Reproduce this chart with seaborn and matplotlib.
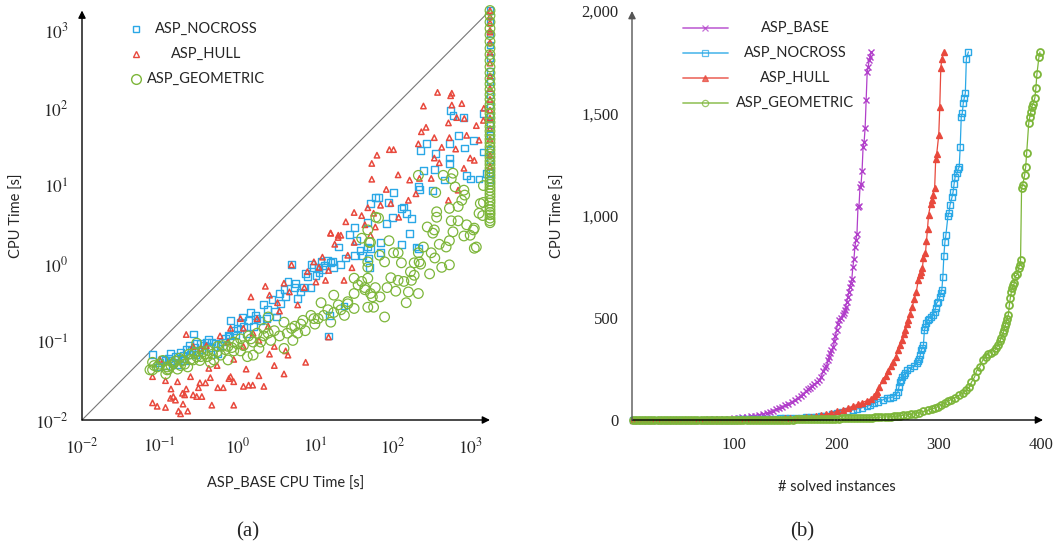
import matplotlib
matplotlib.use("Agg")
import numpy as np
import pandas as pd
import matplotlib.pyplot as plt
import seaborn as sns
from matplotlib.lines import Line2D
from matplotlib.ticker import LogLocator, NullFormatter, FuncFormatter, FixedLocator

# ---------------------------------------------------------------
# (a) ASP_BASE CPU time (x) vs. CPU time of the other encodings (y)
# ---------------------------------------------------------------
nocross_pts = [
    (0.081, 0.070), (0.093, 0.048), (0.10, 0.055), (0.11, 0.060), (0.119, 0.059), (0.13, 0.062),
    (0.138, 0.072), (0.15, 0.055), (0.16, 0.065), (0.17, 0.060), (0.186, 0.074), (0.20, 0.068),
    (0.22, 0.080), (0.25, 0.070), (0.273, 0.127), (0.28, 0.085), (0.30, 0.095), (0.32, 0.075),
    (0.34, 0.097), (0.38, 0.090), (0.43, 0.107), (0.47, 0.100), (0.56, 0.072), (0.60, 0.090),
    (0.70, 0.110), (0.76, 0.123), (0.82, 0.19), (0.90, 0.14), (1.0, 0.15), (1.1, 0.18),
    (1.17, 0.21), (1.3, 0.13), (1.48, 0.24), (1.6, 0.16), (1.8, 0.20), (2.0, 0.19),
    (0.12, 0.050), (0.14, 0.058), (0.17, 0.052), (0.19, 0.062), (0.21, 0.058), (0.24, 0.090),
    (0.26, 0.078), (0.29, 0.070), (0.35, 0.080), (0.40, 0.100), (0.45, 0.085), (0.52, 0.095),
    (0.65, 0.10), (0.80, 0.12), (0.95, 0.125), (1.2, 0.16), (1.4, 0.19), (1.7, 0.22),
    (2.2, 0.30), (2.46, 0.26), (2.8, 0.35), (3.2, 0.21), (3.6, 0.31), (4.0, 0.47),
    (4.2, 0.38), (4.5, 0.60), (5.0, 0.98), (5.6, 0.57), (6.0, 0.36), (6.6, 0.44),
    (7.2, 0.50), (7.5, 0.75), (8.9, 0.50), (9.7, 0.91), (10.3, 0.72), (11.0, 0.91),
    (11.3, 0.77), (12.0, 1.10), (13.2, 0.97), (14.7, 1.12), (15.0, 0.12), (15.5, 0.22),
    (16.0, 1.04), (17.0, 1.07), (17.5, 0.91), (19.9, 1.66), (21.6, 0.98), (23.7, 0.29),
    (2.4, 0.20), (3.0, 0.25), (3.5, 0.42), (5.5, 0.50), (8.0, 0.70), (9.0, 1.0),
    (12.5, 0.85), (25, 1.2), (28, 2.4), (38, 1.5),
    (32, 2.96), (32, 1.30), (34, 2.0), (41.5, 1.30), (48, 3.4), (48, 1.66),
    (48.5, 1.2), (50, 0.91), (52, 6.0), (52.5, 1.6), (61, 7.2), (66, 7.1),
    (70, 1.9), (70, 1.4), (83, 3.3), (88, 6.2), (100, 4.0), (103, 8.3),
    (130, 5.2), (130, 1.8), (140, 5.4), (150, 4.5), (166, 2.5), (175, 3.9),
    (200, 1.66), (215, 10.0), (215, 1.6), (225, 9.0), (230, 29), (250, 16),
    (275, 35), (330, 8.9), (345, 16.5), (360, 26), (470, 12), (540, 35),
    (540, 23), (540, 19.6), (560, 93), (600, 81), (700, 45), (830, 76),
    (850, 31), (890, 13.8), (1000, 12.4), (1100, 39), (1300, 12.4), (1480, 27.5),
    (1480, 86), (1600, 14.7),
    (1800, 12), (1800, 15), (1800, 22), (1800, 30), (1800, 45), (1800, 62), (1800, 80),
    (1800, 110), (1800, 150), (1800, 220), (1800, 300), (1800, 450), (1800, 650),
    (1800, 900), (1800, 1300), (1800, 1800),
]

hull_pts = [
    (0.081, 0.0166), (0.093, 0.015), (0.119, 0.0145), (0.138, 0.019), (0.15, 0.020), (0.16, 0.018),
    (0.175, 0.013), (0.186, 0.012), (0.197, 0.022), (0.21, 0.021), (0.23, 0.013), (0.27, 0.021),
    (0.30, 0.020), (0.316, 0.026), (0.47, 0.0155), (0.90, 0.0155), (0.081, 0.036), (0.119, 0.032),
    (0.17, 0.031), (0.25, 0.036), (0.33, 0.030), (0.39, 0.030), (0.45, 0.035), (0.56, 0.026),
    (0.66, 0.026), (0.78, 0.034), (0.82, 0.036), (0.90, 0.031), (1.2, 0.027), (1.4, 0.028),
    (1.58, 0.028), (1.9, 0.037), (2.2, 0.027), (3.0, 0.050), (4.0, 0.039), (7.6, 0.055),
    (0.22, 0.125), (0.27, 0.088), (0.34, 0.083), (0.40, 0.090), (0.43, 0.046), (0.76, 0.10),
    (0.82, 0.15), (1.1, 0.20), (1.2, 0.15), (1.2, 0.088), (1.6, 0.13), (1.8, 0.20),
    (1.9, 0.105), (2.6, 0.070), (3.0, 0.088), (3.3, 0.32), (4.2, 0.077), (4.5, 0.068),
    (0.10, 0.060), (0.14, 0.025), (0.20, 0.016), (0.22, 0.025), (0.35, 0.020), (0.55, 0.050),
    (0.60, 0.12), (0.90, 0.060), (1.3, 0.045), (2.5, 0.16), (3.5, 0.25), (6.0, 0.30),
    (1.5, 0.38), (2.3, 0.52), (2.6, 0.40), (4.0, 0.57), (4.7, 0.44), (5.0, 0.98),
    (7.3, 0.50), (9.7, 1.07), (10.3, 0.59), (11.3, 0.91), (12.5, 1.23), (13.7, 0.62),
    (15.0, 0.83), (15.0, 0.116), (15.9, 2.5), (16, 2.5), (19.9, 2.2), (20, 2.35),
    (21.6, 2.35), (23.7, 0.62), (26.5, 1.30), (32, 4.6), (32, 1.9), (40, 4.2),
    (8.0, 0.80), (18, 1.8), (25, 3.5), (30, 0.90),
    (44, 3.2), (48, 5.3), (52, 2.35), (57, 4.5), (60, 3.0), (70, 5.7),
    (95, 6.0), (120, 4.0), (160, 6.6), (54, 19.6), (54, 12.3), (63, 25),
    (83, 9.1), (91, 29.5), (103, 29.5), (118, 14), (166, 12), (200, 8.0),
    (215, 35), (222, 12.6), (235, 50), (250, 107), (270, 57), (315, 12.6),
    (345, 42), (345, 23), (380, 160), (400, 20), (430, 31.6), (525, 65),
    (525, 6.6), (540, 42), (560, 145), (580, 156), (580, 110), (650, 30),
    (670, 76), (700, 8.9), (780, 115), (830, 17), (840, 74), (900, 45),
    (1000, 23), (1130, 21.5), (1200, 60), (1300, 39), (1480, 70), (1500, 100),
    (1800, 18), (1800, 25), (1800, 40), (1800, 55), (1800, 75), (1800, 95), (1800, 130),
    (1800, 180), (1800, 260), (1800, 380), (1800, 520), (1800, 700), (1800, 950),
    (1800, 1000), (1800, 1250), (1800, 1500), (1800, 1800),
]

geometric_pts = [
    (0.075, 0.044), (0.081, 0.055), (0.081, 0.044), (0.093, 0.048), (0.10, 0.052), (0.12, 0.039),
    (0.125, 0.048), (0.125, 0.044), (0.14, 0.050), (0.15, 0.053), (0.17, 0.045), (0.186, 0.050),
    (0.20, 0.058), (0.23, 0.048), (0.25, 0.060), (0.27, 0.059), (0.30, 0.097), (0.30, 0.065),
    (0.34, 0.065), (0.38, 0.070), (0.41, 0.065), (0.45, 0.055), (0.50, 0.059), (0.56, 0.088),
    (0.61, 0.068), (0.70, 0.080), (0.76, 0.059), (0.76, 0.088), (0.90, 0.10), (0.90, 0.077),
    (1.1, 0.077), (1.1, 0.11), (1.35, 0.065), (1.4, 0.12), (1.6, 0.10), (1.6, 0.068),
    (0.085, 0.050), (0.11, 0.058), (0.13, 0.045), (0.16, 0.057), (0.18, 0.062), (0.21, 0.052),
    (0.24, 0.070), (0.28, 0.072), (0.33, 0.058), (0.36, 0.075), (0.42, 0.078), (0.48, 0.070),
    (0.55, 0.075), (0.65, 0.090), (0.85, 0.085), (1.0, 0.095), (1.2, 0.090), (1.5, 0.11),
    (1.8, 0.13), (2.0, 0.10), (2.5, 0.13), (3.5, 0.12), (5.0, 0.15), (6.0, 0.13),
    (7.0, 0.19), (10, 0.17), (13, 0.22), (20, 0.30), (24, 0.22), (40, 0.60),
    (1.9, 0.083), (2.2, 0.15), (2.2, 0.12), (2.5, 0.21), (2.7, 0.105), (3.0, 0.14),
    (4.0, 0.083), (4.0, 0.18), (4.4, 0.13), (5.2, 0.105), (5.5, 0.16), (6.6, 0.17),
    (7.5, 0.14), (8.9, 0.22), (9.7, 0.20), (11, 0.20), (12, 0.32), (14.7, 0.26),
    (16, 0.18), (17.5, 0.24), (17.5, 0.40), (21.6, 0.26), (26.5, 0.31), (26.5, 0.33),
    (32, 0.66), (32, 0.42), (32, 0.27), (36, 0.54), (44, 0.47), (44, 0.50),
    (48, 0.91), (48, 0.66), (48, 0.28), (52, 1.9), (52, 0.42), (55, 0.38),
    (57, 0.28), (69, 0.38), (79, 0.21), (79, 1.07), (90, 2.0), (95, 0.67),
    (118, 0.62), (118, 1.4), (130, 1.04), (150, 0.32), (160, 0.44), (175, 0.62),
    (190, 0.72), (215, 0.42), (220, 1.07), (230, 1.0), (250, 1.66), (280, 3.0),
    (315, 1.4), (330, 2.5), (360, 8.3), (370, 4.7), (370, 4.0), (430, 0.91),
    (450, 13.8), (490, 1.66), (540, 0.98), (540, 5.2), (540, 2.0), (600, 14.7),
    (700, 3.6), (780, 6.6), (830, 8.9), (1000, 2.35), (1130, 2.9), (1200, 1.66),
    (1480, 10.2), (1480, 6.2), (61, 4.0), (50, 1.9), (48, 1.07), (66, 3.9),
    (48, 2.75), (40, 2.15), (103, 1.4), (68, 1.3), (190, 1.04), (215, 1.4),
    (345, 2.75), (570, 3.6), (830, 2.3), (1100, 2.75), (1130, 1.6), (1350, 6.0),
    (1450, 4.2), (850, 7.7), (640, 9.8), (570, 12.5), (215, 13.8),
    (60, 0.50), (85, 0.50), (110, 0.45), (140, 0.60), (170, 0.80), (300, 0.75),
    (350, 1.2), (400, 1.8), (600, 2.6), (900, 3.2), (1300, 4.5), (700, 5.5),
    (1800, 3.4), (1800, 3.6), (1800, 3.9), (1800, 4.3), (1800, 4.6), (1800, 5.0),
    (1800, 5.5), (1800, 6.1), (1800, 6.6), (1800, 7.3), (1800, 8.0), (1800, 8.8),
    (1800, 9.6), (1800, 10.6), (1800, 11.5), (1800, 12.8), (1800, 14), (1800, 15.5),
    (1800, 17), (1800, 19), (1800, 21), (1800, 23.5), (1800, 26), (1800, 29),
    (1800, 32), (1800, 36), (1800, 40), (1800, 45), (1800, 51), (1800, 58),
    (1800, 66), (1800, 75), (1800, 86), (1800, 98), (1800, 112), (1800, 130),
    (1800, 150), (1800, 175), (1800, 205), (1800, 240), (1800, 285), (1800, 340),
    (1800, 410), (1800, 490), (1800, 590), (1800, 720), (1800, 880), (1800, 1060),
    (1800, 1280), (1800, 1550), (1800, 1800),
]

# ---------------------------------------------------------------
# (b) cactus plot: (# solved instances, CPU time [s])
# ---------------------------------------------------------------
cactus_base = [
    (1, 0.05), (5, 0.07), (10, 0.09), (15, 0.1), (20, 0.12), (25, 0.15), (30, 0.18), (35, 0.22),
    (40, 0.3), (45, 0.4), (50, 0.5), (55, 0.7), (60, 1.0), (65, 1.3), (70, 1.8), (75, 2.5),
    (80, 3.2), (85, 4.2), (90, 5.5), (95, 7), (100, 9), (104, 11), (108, 13), (112, 16),
    (116, 19), (120, 22), (124, 26), (128, 30), (132, 35), (135, 40), (138, 46), (141, 52),
    (144, 58), (147, 65), (150, 72), (153, 80), (156, 88), (159, 97), (162, 108), (165, 118),
    (167, 128), (170, 140), (172, 150), (174, 158), (176, 168), (178, 175), (181, 184), (183, 196),
    (185, 212), (187, 238), (189, 252), (190, 262), (192, 292), (193, 308), (194, 328), (195, 340),
    (197, 358), (198, 385), (199, 410), (200, 440), (201, 470), (202, 490), (204, 500), (206, 512),
    (207, 522), (208, 540), (209, 555), (210, 575), (211, 600), (212, 625), (213, 650), (214, 668),
    (215, 690), (216, 748), (217, 785), (218, 845), (219, 880), (220, 909), (221, 1041), (222, 1045),
    (223, 1140), (224, 1154), (225, 1218), (226, 1335), (227, 1360), (228, 1428), (229, 1565),
    (230, 1700), (231, 1727), (232, 1760), (233, 1775), (234, 1800),
]

cactus_nocross = [
    (1, 0.05), (5, 0.06), (10, 0.07), (15, 0.08), (20, 0.1), (25, 0.12), (30, 0.14), (35, 0.17),
    (40, 0.2), (45, 0.25), (50, 0.3), (55, 0.35), (60, 0.45), (65, 0.55), (70, 0.7), (75, 0.85),
    (80, 1.0), (85, 1.2), (90, 1.5), (95, 1.8), (100, 2.2), (105, 2.6), (110, 3), (115, 3.5),
    (120, 4), (125, 4.6), (130, 5.2), (135, 6), (140, 6.8), (145, 7.6), (150, 8.5), (155, 9.5),
    (160, 10.5), (165, 11.5), (170, 12.5), (175, 14), (180, 15.5), (185, 18), (190, 22), (196, 27),
    (200, 32), (205, 37), (210, 42), (216, 49), (220, 54), (225, 60), (230, 67), (233, 73),
    (237, 82), (241, 90), (245, 98), (249, 106), (252, 109), (255, 112), (258, 122), (260, 137),
    (261, 160), (262, 186), (263, 198), (264, 210), (266, 220), (267, 228), (269, 244), (272, 255),
    (276, 262), (279, 279), (280, 290), (281, 300), (282, 320), (283, 342), (284, 352), (285, 367),
    (286, 440), (287, 455), (288, 475), (289, 489), (290, 495), (292, 505), (294, 513), (296, 528),
    (297, 550), (298, 572), (299, 577), (301, 601), (302, 620), (303, 636), (304, 699), (305, 802),
    (306, 870), (307, 905), (309, 998), (310, 1012), (311, 1051), (313, 1090), (314, 1115),
    (315, 1154), (316, 1188), (318, 1208), (319, 1227), (320, 1237), (321, 1335), (322, 1482),
    (323, 1501), (324, 1550), (325, 1575), (326, 1599), (327, 1765), (329, 1800),
]

cactus_hull = [
    (1, 0.015), (5, 0.02), (10, 0.025), (15, 0.03), (20, 0.035), (25, 0.04), (30, 0.05), (35, 0.06),
    (40, 0.08), (45, 0.1), (50, 0.13), (55, 0.17), (60, 0.22), (65, 0.28), (70, 0.35), (75, 0.45),
    (80, 0.6), (85, 0.8), (90, 1.0), (95, 1.3), (100, 1.6), (105, 2.0), (110, 2.5), (115, 3),
    (120, 3.5), (125, 4), (130, 4.5), (135, 5), (140, 6), (145, 7), (150, 8), (155, 9),
    (160, 10.5), (165, 12), (170, 14), (175, 16), (180, 19), (185, 23), (190, 28), (195, 34),
    (200, 42), (206, 50), (211, 58), (216, 68), (221, 77), (225, 85), (230, 95), (234, 105),
    (237, 115), (239, 127), (240, 137), (242, 160), (245, 196), (248, 215), (250, 240), (253, 265),
    (255, 284), (258, 310), (260, 342), (262, 365), (264, 391), (266, 420), (267, 440), (269, 470),
    (270, 489), (272, 520), (274, 553), (276, 590), (278, 626), (280, 685), (282, 710), (283, 724),
    (284, 743), (285, 792), (287, 816), (288, 875), (289, 934), (290, 1002), (292, 1056),
    (293, 1076), (294, 1100), (296, 1134), (297, 1276), (298, 1301), (300, 1394), (301, 1531),
    (302, 1721), (303, 1765), (305, 1800),
]

cactus_geometric = [
    (1, 0.04), (4, 0.045), (7, 0.05), (10, 0.052), (13, 0.055), (16, 0.06), (19, 0.063), (22, 0.067),
    (25, 0.07), (28, 0.08), (31, 0.085), (34, 0.09), (37, 0.1), (40, 0.11), (43, 0.115), (46, 0.125),
    (49, 0.135), (52, 0.15), (55, 0.165), (58, 0.18), (61, 0.19), (64, 0.2), (67, 0.22), (70, 0.24),
    (73, 0.26), (76, 0.28), (79, 0.3), (82, 0.32), (85, 0.34), (88, 0.36), (91, 0.39), (94, 0.42),
    (97, 0.47), (100, 0.5), (103, 0.54), (106, 0.58), (109, 0.62), (112, 0.65), (115, 0.7),
    (118, 0.76), (121, 0.82), (124, 0.9), (127, 0.97), (130, 1.05), (133, 1.12), (136, 1.2),
    (139, 1.35), (142, 1.5), (145, 1.65), (148, 1.8), (151, 1.95), (154, 2.15), (157, 2.4),
    (160, 2.6), (163, 2.9), (166, 3.2), (169, 3.5), (172, 3.8), (175, 4.1), (178, 4.4), (181, 4.7),
    (184, 5.0), (187, 5.4), (190, 5.8), (193, 6.2), (196, 6.5), (199, 6.9), (202, 7.3), (205, 7.6),
    (208, 8), (211, 8.4), (214, 8.8), (217, 9.2), (220, 9.5), (223, 9.9), (226, 10.3), (229, 10.7),
    (232, 11), (235, 11.8), (238, 12.5), (241, 13.2), (244, 14), (247, 14.8), (250, 15.5),
    (253, 16.3), (256, 18), (259, 19.5), (262, 21), (265, 22.5), (269, 25), (273, 28), (277, 31),
    (281, 36), (285, 42), (289, 47), (293, 53), (296, 59), (299, 65), (302, 71), (306, 83),
    (309, 92), (312, 100), (316, 110), (320, 121), (324, 132), (327, 147), (330, 161), (332, 185),
    (335, 210), (337, 240), (340, 259), (343, 293), (346, 310), (348, 325), (351, 330), (354, 335),
    (356, 350), (358, 367), (360, 385), (361, 401), (363, 425), (364, 440), (365, 458), (366, 474),
    (367, 495), (368, 513), (369, 560), (370, 597), (371, 625), (372, 645), (373, 660), (374, 670),
    (375, 704), (377, 712), (378, 743), (379, 758), (380, 782), (381, 1134), (382, 1149),
    (384, 1198), (385, 1237), (386, 1306), (388, 1452), (389, 1482), (390, 1506), (391, 1531),
    (392, 1545), (394, 1575), (395, 1623), (396, 1692), (398, 1775), (399, 1800),
]

PURPLE = "#b13fca"
BLUE = "#2aa8e6"
RED = "#e8493d"
GREEN = "#7db63a"

W, H = 1054, 550

sns.set_style("white")
plt.rcParams["font.family"] = ["Lato", "DejaVu Sans"]
plt.rcParams["mathtext.fontset"] = "stix"
SERIF = "Liberation Serif"


def fx(px):
    return px / W


def fy(py):
    return 1 - py / H


def arrow_axes(ax, xcolor, ycolor, xend=1.005, yend=1.0):
    for s in ax.spines.values():
        s.set_visible(False)
    ax.annotate("", xy=(xend, 0), xytext=(0, 0), xycoords="axes fraction",
                arrowprops=dict(arrowstyle="-|>", color=xcolor, lw=1.0, mutation_scale=11,
                                shrinkA=0, shrinkB=0), zorder=5)
    ax.annotate("", xy=(0, yend), xytext=(0, 0), xycoords="axes fraction",
                arrowprops=dict(arrowstyle="-|>", color=ycolor, lw=1.0, mutation_scale=11,
                                shrinkA=0, shrinkB=0), zorder=5)


def pow10(v, pos):
    return f"$10^{{{int(round(np.log10(v)))}}}$"


fig = plt.figure(figsize=(W / 100, H / 100), dpi=100)
ax1 = fig.add_axes([fx(82), fy(420), (490 - 82) / W, (420 - 10.5) / H])
ax2 = fig.add_axes([fx(632), fy(420), (1041 - 632) / W, (420 - 11) / H])

# ------------------------- (a) scatter -------------------------
series_a = [
    ("ASP_NOCROSS", nocross_pts, "s", BLUE, 24, 1.0),
    ("ASP_HULL", hull_pts, "^", RED, 15, 1.1),
    ("ASP_GEOMETRIC", geometric_pts, "o", GREEN, 48, 0.9),
]
for name, pts, mk, col, size, lw in series_a:
    df = pd.DataFrame(pts, columns=["base", "other"])
    sns.scatterplot(data=df, x="base", y="other", marker=mk, s=size, color=col,
                    facecolor="none", edgecolor=col, linewidth=lw, ax=ax1,
                    clip_on=False, zorder=3)

ax1.set_xscale("log")
ax1.set_yscale("log")
ax1.set_xlim(0.01, 1800)
ax1.set_ylim(0.01, 1800)
ax1.plot([0.01, 1800], [0.01, 1800], color="#777777", lw=0.8, zorder=2)

for axis in (ax1.xaxis, ax1.yaxis):
    axis.set_major_locator(LogLocator(base=10, numticks=10))
    axis.set_minor_locator(LogLocator(base=10, subs=np.arange(2, 10), numticks=20))
    axis.set_major_formatter(FuncFormatter(pow10))
    axis.set_minor_formatter(NullFormatter())
ax1.tick_params(which="major", direction="inout", length=9, width=0.8, color="#333333",
                labelsize=12.5, pad=5)
ax1.tick_params(which="minor", direction="inout", length=5, width=0.6, color="#333333")
ax1.tick_params(axis="x", which="major", pad=8)
arrow_axes(ax1, "black", "black", xend=1.0, yend=1.0)
ax1.set_xlabel("")
ax1.set_ylabel("")

# manual legend (centered labels as in the original)
leg_a = [("ASP_NOCROSS", "s", BLUE, 5.0, 29), ("ASP_HULL", "^", RED, 4.0, 54),
         ("ASP_GEOMETRIC", "o", GREEN, 7.0, 79)]
for label, mk, col, ms, y in leg_a:
    fig.add_artist(Line2D([fx(136)], [fy(y)], transform=fig.transFigure, marker=mk, ms=ms,
                          mfc="none", mec=col, mew=1.0, ls="none"))
    fig.text(fx(206), fy(y), label, ha="center", va="center", fontsize=10.5)

fig.text(fx(286), fy(484), "ASP_BASE CPU Time [s]", ha="center", va="center", fontsize=10.5)
fig.text(fx(17), fy(216), "CPU Time [s]", ha="center", va="center", rotation=90, fontsize=10.5)

# ------------------------- (b) cactus -------------------------
series_b = [
    ("ASP_BASE", cactus_base, "x", PURPLE, "full", 4.5, 1.0),
    ("ASP_NOCROSS", cactus_nocross, "s", BLUE, "none", 4.5, 1.0),
    ("ASP_HULL", cactus_hull, "^", RED, "full", 4.0, 1.0),
    ("ASP_GEOMETRIC", cactus_geometric, "o", GREEN, "none", 5.0, 1.3),
]
for name, pts, mk, col, fill, ms, mew in series_b:
    df = pd.DataFrame(pts, columns=["solved", "cpu"])
    sns.lineplot(data=df, x="solved", y="cpu", color=col, lw=0.9, marker=mk, ms=ms,
                 mfc=col if fill == "full" else "none", mec=col, mew=mew,
                 estimator=None, sort=False, ax=ax2, zorder=3, clip_on=False)

ax2.set_xlim(0, 400)
ax2.set_ylim(0, 2000)
ax2.xaxis.set_major_locator(FixedLocator([100, 200, 300, 400]))
ax2.yaxis.set_major_locator(FixedLocator([0, 500, 1000, 1500, 2000]))
ax2.yaxis.set_major_formatter(FuncFormatter(lambda v, p: f"{v:,.0f}"))
ax2.tick_params(which="major", direction="inout", length=9, width=0.8, color="#888888",
                labelsize=12, pad=5)
ax2.tick_params(axis="x", pad=8)
arrow_axes(ax2, "black", "#555555")
ax2.set_xlabel("")
ax2.set_ylabel("")

for ax in (ax1, ax2):
    ax.tick_params(labelfontfamily=SERIF)

leg_b = [("ASP_BASE", "x", PURPLE, "full", 28), ("ASP_NOCROSS", "s", BLUE, "none", 53),
         ("ASP_HULL", "^", RED, "full", 78), ("ASP_GEOMETRIC", "o", GREEN, "none", 103)]
for label, mk, col, fill, y in leg_b:
    fig.add_artist(Line2D([fx(683), fx(705), fx(728)], [fy(y)] * 3, transform=fig.transFigure,
                          color=col, lw=1.3, alpha=0.75, marker=mk, markevery=[1], ms=4.5,
                          mfc=col if fill == "full" else "none", mec=col, mew=0.9))
    fig.text(fx(795), fy(y), label, ha="center", va="center", fontsize=10.5)

fig.text(fx(837), fy(487), "# solved instances", ha="center", va="center", fontsize=10.5)
fig.text(fx(558), fy(216), "CPU Time [s]", ha="center", va="center", rotation=90, fontsize=10.5)

fig.text(fx(248), fy(532), "(a)", ha="center", va="center", fontsize=15, family=SERIF)
fig.text(fx(802), fy(532), "(b)", ha="center", va="center", fontsize=15, family=SERIF)

fig.savefig("out.png", dpi=100)
